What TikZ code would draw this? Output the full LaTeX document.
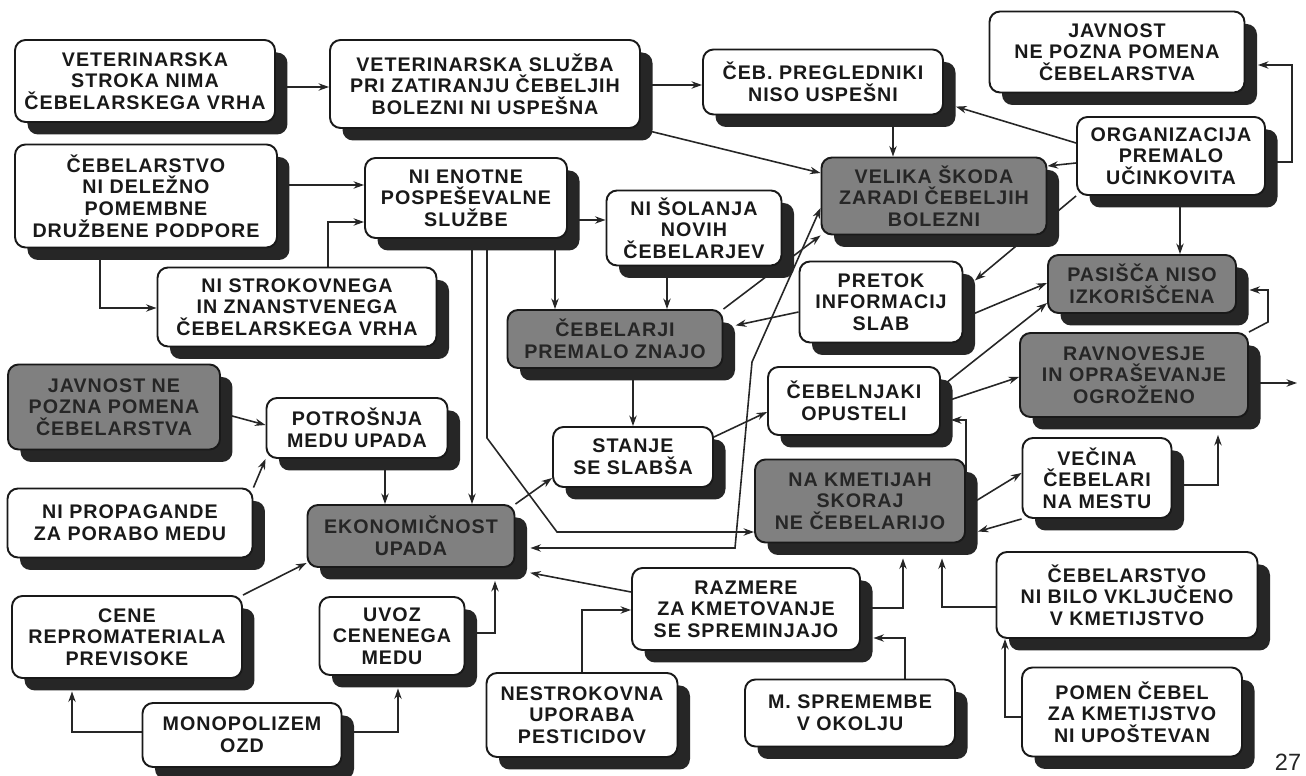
\documentclass[tikz,border=0pt]{standalone}
\usepackage{fontspec}
\setmainfont{Liberation Sans}
\newfontfamily\okvirfont{Liberation Sans}[LetterSpace=5]
\usetikzlibrary{arrows.meta,shadows,backgrounds}

\tikzset{
  okvir/.style={draw=black!90, line width=1.1pt, fill=white, rounded corners=6pt,
    align=center, inner sep=0pt, text=black!90,
    font=\okvirfont\bfseries\fontsize{11.2pt}{12.3pt}\selectfont,
    drop shadow={shadow xshift=0.25cm, shadow yshift=-0.25cm, fill=black!85, opacity=1}},
  siv/.style={okvir, fill=black!50, text=black!85},
  velikost/.style 2 args={minimum width=#1*0.02cm, minimum height=#2*0.02cm},
  povezava/.style={draw=black!85, line width=0.9pt, ->},
  >={Stealth[length=6pt,width=4.2pt]}
}

\begin{document}
\begin{tikzpicture}[x=0.02cm, y=-0.02cm]
  \useasboundingbox (0,0) rectangle (1306,776);

  % Okvirji
  \node[okvir, velikost={260}{82}] (vetstroka) at (145,81) {VETERINARSKA\\STROKA NIMA\\ČEBELARSKEGA VRHA};
  \node[okvir, velikost={310}{88}] (vetsluzba) at (485,84) {VETERINARSKA SLUŽBA\\PRI ZATIRANJU ČEBELJIH\\BOLEZNI NI USPEŠNA};
  \node[okvir, velikost={240}{65}] (pregledniki) at (823,82) {ČEB. PREGLEDNIKI\\NISO USPEŠNI};
  \node[okvir, velikost={255}{81}] (javnost) at (1117,52) {JAVNOST\\NE POZNA POMENA\\ČEBELARSTVA};
  \node[okvir, velikost={188}{78}] (organizacija) at (1171,156) {ORGANIZACIJA\\PREMALO\\UČINKOVITA};
  \node[siv, velikost={225}{77}] (skoda) at (934,196) {VELIKA ŠKODA\\ZARADI ČEBELJIH\\BOLEZNI};
  \node[okvir, velikost={262}{103}] (podpora) at (146,196) {ČEBELARSTVO\\NI DELEŽNO\\POMEMBNE\\DRUŽBENE PODPORE};
  \node[okvir, velikost={202}{80}] (sluzba) at (466,198) {NI ENOTNE\\POSPEŠEVALNE\\SLUŽBE};
  \node[okvir, velikost={175}{75}] (solanje) at (694,228) {NI ŠOLANJA\\NOVIH\\ČEBELARJEV};
  \node[okvir, velikost={279}{79}] (vrh) at (297,307) {NI STROKOVNEGA\\IN ZNANSTVENEGA\\ČEBELARSKEGA VRHA};
  \node[siv, velikost={215}{58}] (znajo) at (615,339) {ČEBELARJI\\PREMALO ZNAJO};
  \node[okvir, velikost={163}{81}] (pretok) at (881,302) {PRETOK\\INFORMACIJ\\SLAB};
  \node[siv, velikost={188}{58}] (pasisca) at (1142,284) {PASIŠČA NISO\\IZKORIŠČENA};
  \node[siv, velikost={228}{84}] (ravnovesje) at (1134,375) {RAVNOVESJE\\IN OPRAŠEVANJE\\OGROŽENO};
  \node[siv, velikost={212}{85}] (javnostmed) at (114,407) {JAVNOST NE\\POZNA POMENA\\ČEBELARSTVA};
  \node[okvir, velikost={181}{60}] (potrosnja) at (357,428) {POTROŠNJA\\MEDU UPADA};
  \node[okvir, velikost={160}{60}] (stanje) at (633,457) {STANJE\\SE SLABŠA};
  \node[okvir, velikost={172}{68}] (opusteli) at (854,401) {ČEBELNJAKI\\OPUSTELI};
  \node[okvir, velikost={149}{80}] (vecina) at (1097,478) {VEČINA\\ČEBELARI\\NA MESTU};
  \node[siv, velikost={210}{83}] (kmetije) at (860,501) {NA KMETIJAH\\SKORAJ\\NE ČEBELARIJO};
  \node[okvir, velikost={245}{69}] (propaganda) at (130,523) {NI PROPAGANDE\\ZA PORABO MEDU};
  \node[siv, velikost={207}{62}] (ekonomicnost) at (411,536) {EKONOMIČNOST\\UPADA};
  \node[okvir, velikost={230}{82}] (cene) at (127,637) {CENE\\REPROMATERIALA\\PREVISOKE};
  \node[okvir, velikost={145}{78}] (uvoz) at (392,636) {UVOZ\\CENENEGA\\MEDU};
  \node[okvir, velikost={228}{82}] (razmere) at (746,609) {RAZMERE\\ZA KMETOVANJE\\SE SPREMINJAJO};
  \node[okvir, velikost={261}{86}] (vkljuceno) at (1127,595) {ČEBELARSTVO\\NI BILO VKLJUČENO\\V KMETIJSTVO};
  \node[okvir, velikost={199}{64}] (monopolizem) at (242,735) {MONOPOLIZEM\\OZD};
  \node[okvir, velikost={191}{84}] (pesticidi) at (582,715) {NESTROKOVNA\\UPORABA\\PESTICIDOV};
  \node[okvir, velikost={210}{67}] (okolje) at (850,713) {M. SPREMEMBE\\V OKOLJU};
  \node[okvir, velikost={220}{89}] (pomen) at (1132,712) {POMEN ČEBEL\\ZA KMETIJSTVO\\NI UPOŠTEVAN};
  \coordinate (izhod) at (1297,383);

  % Številka strani
  \node[font=\fontsize{13.4pt}{15pt}\selectfont, text=black!85] (stran) at (1288,762) {27};

  % Povezave
  \begin{scope}[on background layer]
    \fill[white] (0,0) rectangle (1306,776);
    \draw[povezava] (vetstroka.east |- 0,87) -- (vetsluzba.west |- 0,87);
    \draw[povezava] (vetsluzba.east |- 0,85) -- (pregledniki.west |- 0,85);
    \draw[povezava] (vetsluzba.south east) -- (skoda.west |- 0,173);
    \draw[povezava] (893,0 |- pregledniki.south) -- (893,0 |- skoda.north);
    \draw[povezava, shorten >=0.25cm] (organizacija.east |- 0,162) -- (1292,162) |- (javnost.east |- 0,65);
    \draw[povezava, shorten >=0.25cm] (organizacija.west |- 0,143) -- (pregledniki.east |- 0,103);
    \draw[povezava] (organizacija.west |- 0,163) -- (skoda.east |- 0,166);
    \draw[povezava] (1180,0 |- organizacija.south) -- (1180,0 |- pasisca.north);
    \draw[povezava, shorten >=0.3cm] (organizacija.south west) -- (pretok.east |- 0,290);
    \draw[povezava] (podpora.east |- 0,185) -- (sluzba.west |- 0,185);
    \draw[povezava] (328,0 |- vrh.north) |- (sluzba.west |- 0,222);
    \draw[povezava] (100,0 |- podpora.south) |- (vrh.west |- 0,308);
    \draw[povezava] (sluzba.east |- 0,220) -- (solanje.west |- 0,220);
    \draw[povezava] (555,0 |- sluzba.south) -- (555,0 |- znajo.north);
    \draw[povezava] (472,0 |- sluzba.south) -- (472,0 |- ekonomicnost.north);
    \draw[povezava] (487,0 |- sluzba.south) -- (487,438) -- (557,532) -- (kmetije.west |- 0,532);
    \draw[povezava] (667,0 |- solanje.south) -- (667,0 |- znajo.north);
    \draw[povezava] (znajo.north east) -- (skoda.south west);
    \draw[povezava, <->, shorten <=0.3cm] (ekonomicnost.east |- 0,548) -- (735,548) -- (752,362) -- (skoda.west |- 0,208);
    \draw[povezava] (633,0 |- znajo.south) -- (633,0 |- stanje.north);
    \draw[povezava, shorten >=0.25cm] (pretok.west |- 0,312) -- (znajo.east |- 0,328);
    \draw[povezava] (pretok.east |- 0,318) -- (pasisca.west |- 0,283);
    \draw[povezava] (opusteli.east |- 0,387) -- (pasisca.west |- 0,303);
    \draw[povezava] (opusteli.east |- 0,403) -- (ravnovesje.west |- 0,377);
    \draw[povezava, shorten >=0.2cm] (kmetije.east |- 0,475) |- (opusteli.east |- 0,420);
    \draw[povezava] (kmetije.east |- 0,507) -- (vecina.west |- 0,473);
    \draw[povezava, shorten >=0.25cm] (vecina.south west) -- (kmetije.east |- 0,535);
    \draw[povezava, shorten >=0.34cm] (vecina.east |- 0,485) -| (1218,0 |- ravnovesje.south);
    \draw[povezava, shorten >=0.25cm] (ravnovesje.north east) -- (1268,322) |- (pasisca.east |- 0,290);
    \draw[povezava] (ravnovesje.east |- izhod) -- (izhod);
    \draw[povezava] (ekonomicnost.north east) -- (stanje.west |- 0,478);
    \draw[povezava] (stanje.east |- 0,437) -- (opusteli.west |- 0,412);
    \draw[povezava] (javnostmed.east |- 0,413) -- (potrosnja.west |- 0,425);
    \draw[povezava] (propaganda.north east) -- (potrosnja.south west);
    \draw[povezava] (385,0 |- potrosnja.south) -- (385,0 |- ekonomicnost.north);
    \draw[povezava] (cene.north east) -- (ekonomicnost.west |- 0,563);
    \draw[povezava, shorten >=0.26cm] (uvoz.east |- 0,633) -| (495,0 |- ekonomicnost.south);
    \draw[povezava, shorten >=0.3cm] (razmere.west |- 0,592) -- (ekonomicnost.east |- 0,570);
    \draw[povezava] (582,0 |- pesticidi.north) |- (razmere.west |- 0,610);
    \draw[povezava, shorten >=0.25cm] (905,0 |- okolje.north) |- (razmere.east |- 0,638);
    \draw[povezava, shorten >=0.3cm] (razmere.east |- 0,608) -| (903,0 |- kmetije.south);
    \draw[povezava, shorten >=0.3cm] (vkljuceno.west |- 0,607) -| (942,0 |- kmetije.south);
    \draw[povezava] (pomen.west |- 0,717) -| (1005,0 |- vkljuceno.south);
    \draw[povezava, shorten >=0.25cm] (monopolizem.west |- 0,732) -| (72,0 |- cene.south);
    \draw[povezava, shorten >=0.25cm] (monopolizem.east |- 0,732) -| (398,0 |- uvoz.south);
  \end{scope}
\end{tikzpicture}
\end{document}
